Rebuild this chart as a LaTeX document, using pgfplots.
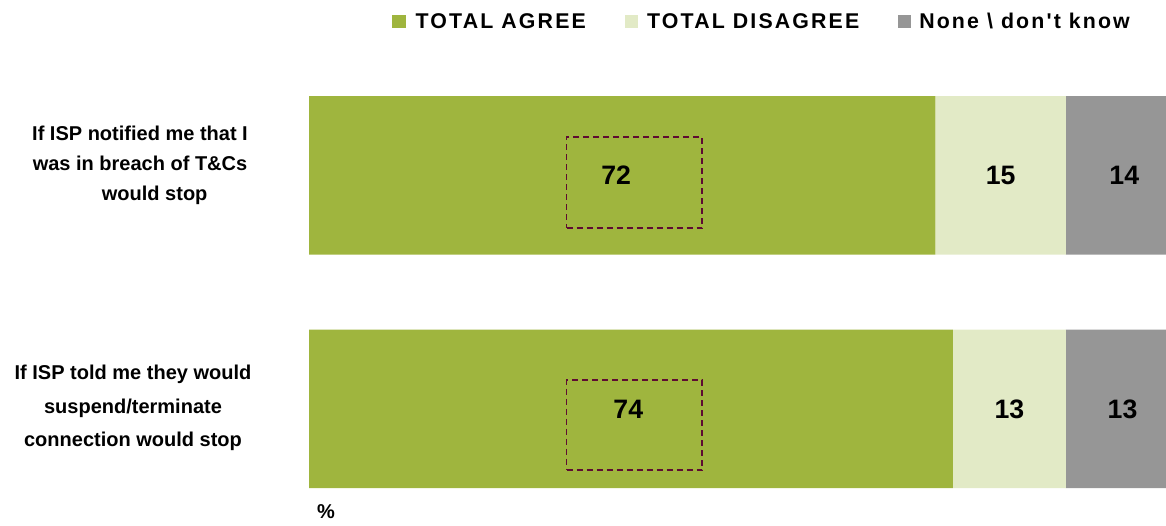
\documentclass[border=0pt]{standalone}
\usepackage{fontspec}
\setmainfont{Liberation Sans}
\newfontfamily\legfont[LetterSpace=10]{Liberation Sans}
\usepackage{pgfplots}
\usepackage{pgfplotstable}
\pgfplotsset{compat=1.18}
\definecolor{cagree}{HTML}{9FB53E}
\definecolor{cdis}{HTML}{E2EAC6}
\definecolor{cnone}{HTML}{969696}
\definecolor{cbox}{HTML}{5E0B32}

\pgfplotstableread{
y agree dis none
0 74 13 13
1 72 15 14
}\datatable

\pgfplotstableread{
x y lab
35.3 1 72
79.5 1 15
93.7 1 14
36.7 0 74
80.5 0 13
93.5 0 13
}\labtable

\pgfplotsset{
  sq/.style={legend image code/.code={\fill[##1] (0pt,-5pt) rectangle (10pt,5pt);}},
  base/.style={
    at={(231.75pt,8.25pt)}, anchor=south west,
    scale only axis, width=642.75pt, height=341.5pt,
    xmin=0, xmax=98.5, ymin=-0.45, ymax=1.5,
    axis lines=none, xtick=\empty, ytick=\empty,
  }
}

\begin{document}
\begin{tikzpicture}[x=0.75pt,y=0.75pt]
\useasboundingbox (0,0) rectangle (1166,525);
\begin{axis}[base,
  xbar stacked, bar width=118.9pt,
  legend columns=3,
  legend style={at={(0.097,1.081)}, anchor=west, draw=none, fill=none,
    inner sep=0pt, nodes={inner sep=0pt},
    /tikz/every even column/.append style={column sep=29pt},
    font=\legfont\fontsize{16}{19}\selectfont\bfseries},
]
\addplot[fill=cagree, draw=none, sq] table[x=agree,y=y]{\datatable};
\addplot[fill=cdis, draw=none, sq] table[x=dis,y=y]{\datatable};
\addplot[fill=cnone, draw=none, sq] table[x=none,y=y]{\datatable};
\legend{\hspace{7.5pt}TOTAL AGREE,\hspace{7pt}TOTAL DISAGREE,\hspace{6pt}None \textbackslash\ don't know}
\end{axis}
\begin{axis}[base]
\addplot[cbox, line width=1.4pt, dash pattern=on 4.5pt off 3pt, mark=none]
  coordinates {(29.6,0.775) (45.2,0.775) (45.2,1.165) (29.6,1.165) (29.6,0.775)};
\addplot[cbox, line width=1.4pt, dash pattern=on 4.5pt off 3pt, mark=none]
  coordinates {(29.6,-0.261) (45.2,-0.261) (45.2,0.124) (29.6,0.124) (29.6,-0.261)};
\addplot[draw=none, mark=none, nodes near coords, point meta=explicit symbolic,
  every node near coord/.style={anchor=center, text=black,
    font=\fontsize{20}{24}\selectfont\bfseries}]
  table[x=x,y=y,meta=lab]{\labtable};
\end{axis}
\node[align=center, font=\fontsize{15}{22.5}\selectfont\bfseries] at (140,360)
  {If ISP notified me that I\\was in breach of T\&Cs\\\hspace*{22pt}would stop};
\node[align=center, font=\fontsize{15}{25}\selectfont\bfseries] at (133,117)
  {If ISP told me they would\\suspend/terminate\\connection would stop};
\node[font=\fontsize{15}{18}\selectfont\bfseries] at (326,13) {\%};
\end{tikzpicture}
\end{document}
